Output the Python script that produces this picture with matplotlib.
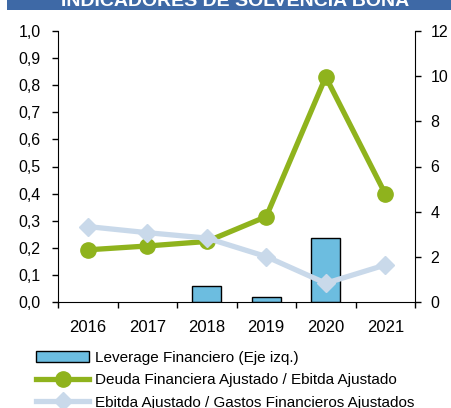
import numpy as np
import matplotlib.pyplot as plt
from matplotlib.ticker import FixedLocator, FuncFormatter
from matplotlib.patches import Rectangle

years = ['2016', '2017', '2018', '2019', '2020', '2021']
leverage = [np.nan, np.nan, 0.06, 0.018, 0.237, np.nan]   # eje izquierdo
deuda_ebitda = [2.31, 2.48, 2.68, 3.78, 9.97, 4.79]       # eje derecho
ebitda_gastos = [3.34, 3.07, 2.83, 2.01, 0.83, 1.64]      # eje derecho

plt.rcParams['font.family'] = ['Liberation Sans', 'DejaVu Sans']

fig = plt.figure(figsize=(4.51, 4.08), dpi=100)
W, H = 451, 408

# banda de titulo (recortada arriba)
fig.patches.append(Rectangle((7/W, 1-9.5/H), 1-7/W, 9.5/H, transform=fig.transFigure,
                             facecolor='#3e69a6', edgecolor='none'))
fig.text(235/W, 1-6.5/H, 'INDICADORES DE SOLVENCIA BONA', color='white',
         fontsize=14, fontweight='bold', ha='center', va='baseline')

ax = fig.add_axes([58/W, 1-302/H, (415-58)/W, (302-31)/H])
x = np.arange(len(years))

b = ax.bar(x, leverage, width=0.48, color='#6cbde0', edgecolor='black', linewidth=1,
           label='Leverage Financiero (Eje izq.)', zorder=2)
ax.set_ylim(0, 1.0)
ax.set_xlim(-0.5, len(years)-0.5)
ax.set_yticks(np.arange(0, 1.01, 0.1))
ax.yaxis.set_major_formatter(FuncFormatter(lambda v, p: f'{v:.1f}'.replace('.', ',')))
ax.set_xticks(x)
ax.set_xticklabels(years)
ax.xaxis.set_minor_locator(FixedLocator(np.arange(-0.5, len(years), 1.0)))
ax.tick_params(axis='x', which='major', length=0, pad=13, labelsize=12)
ax.tick_params(axis='x', which='minor', length=4, direction='out', width=1)
ax.tick_params(axis='y', length=4.5, direction='out', width=1, pad=8, labelsize=11.5)
ax.spines['top'].set_visible(False)
ax.spines['right'].set_visible(False)

ax2 = ax.twinx()
l1, = ax2.plot(x, deuda_ebitda, color='#8fb31d', linewidth=3.8, marker='o',
               markersize=11, label='Deuda Financiera Ajustado / Ebitda Ajustado', zorder=3)
l2, = ax2.plot(x, ebitda_gastos, color='#c9d9ea', linewidth=3.8, marker='D',
               markersize=9, label='Ebitda Ajustado / Gastos Financieros Ajustados', zorder=4)
ax2.set_ylim(0, 12)
ax2.set_yticks(np.arange(0, 13, 2))
ax2.tick_params(axis='y', length=4, direction='out', width=1, pad=7, labelsize=11.5)
ax2.spines['top'].set_visible(False)
ax2.spines['left'].set_visible(False)
ax2.spines['bottom'].set_visible(False)
ax.set_zorder(1)
ax2.set_zorder(2)

fig.legend(handles=[b, l1, l2], loc='upper left', bbox_to_anchor=(36/W, 1-351/H),
           frameon=False, fontsize=11, borderpad=0, borderaxespad=0,
           handlelength=3.5, handletextpad=0.33, labelspacing=0.55)

plt.savefig('out.png', dpi=100)
